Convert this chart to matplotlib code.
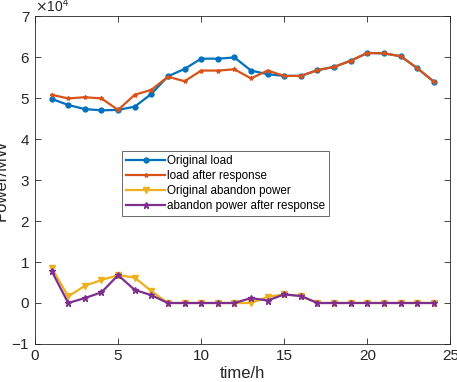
import matplotlib
matplotlib.use("Agg")
import matplotlib.pyplot as plt
import numpy as np

hours = list(range(1, 25))
original_load = [49800, 48300, 47300, 47000, 47100, 47900, 51000, 55300, 57100, 59600,
                 59600, 59900, 56700, 55800, 55400, 55400, 56800, 57600, 59100, 61000,
                 60900, 60200, 57300, 54000]
load_after = [50800, 49900, 50200, 49900, 47100, 50800, 52000, 55200, 54100, 56700,
              56700, 57000, 54800, 56700, 55400, 55400, 56800, 57600, 59100, 61000,
              60900, 60200, 57300, 54000]
orig_abandon = [8600, 1600, 4200, 5600, 6800, 6200, 2900, 0, 0, 0,
                0, 0, 0, 1500, 2100, 1700, 0, 0, 0, 0,
                0, 0, 0, 0]
abandon_after = [7800, 0, 1200, 2600, 6800, 3200, 1900, 0, 0, 0,
                 0, 0, 1200, 600, 2100, 1700, 0, 0, 0, 0,
                 0, 0, 0, 0]

plt.rcParams['font.family'] = ['Liberation Sans', 'DejaVu Sans']
fig = plt.figure(figsize=(4.57, 3.82), dpi=100)
ax = fig.add_axes([0.0766, 0.0995, 0.909, 0.8585])

lw = 1.6
ax.plot(hours, original_load, color='#0072BD', lw=lw, marker='.', ms=7, label='Original load')
ax.plot(hours, load_after, color='#D95319', lw=lw, marker='*', ms=3, label='load after response')
ax.plot(hours, orig_abandon, color='#EDB120', lw=lw, marker='v', ms=4, label='Original abandon power')
ax.plot(hours, abandon_after, color='#7E2F8E', lw=lw, marker='*', ms=5, label='abandon power after response')

ax.set_xlim(0, 25)
ax.set_ylim(-10000, 70000)
ax.set_xticks([0, 5, 10, 15, 20, 25])
ax.set_yticks(np.arange(-10000, 70001, 10000))
ax.ticklabel_format(axis='y', style='sci', scilimits=(4, 4), useMathText=True)
ax.yaxis.get_offset_text().set_fontsize(10)
ax.yaxis.get_offset_text().set_color('#262626')
ax.tick_params(direction='in', top=True, right=True, labelsize=11, colors='#262626', length=4, width=0.6)
for s in ax.spines.values():
    s.set_color('#262626')
    s.set_linewidth(0.6)
ax.set_xlabel('time/h', fontsize=12, color='#262626', labelpad=2)
ax.set_ylabel('Power/MW', fontsize=12, color='#262626', labelpad=2)

leg = ax.legend(loc='upper left', bbox_to_anchor=(0.21, 0.588), fontsize=8.4, frameon=True,
                fancybox=False, edgecolor='#262626', borderpad=0.35, labelspacing=0.25,
                handlelength=3.3, handletextpad=0.2, borderaxespad=0)
leg.get_frame().set_linewidth(0.6)

fig.savefig('out.png', dpi=100)
